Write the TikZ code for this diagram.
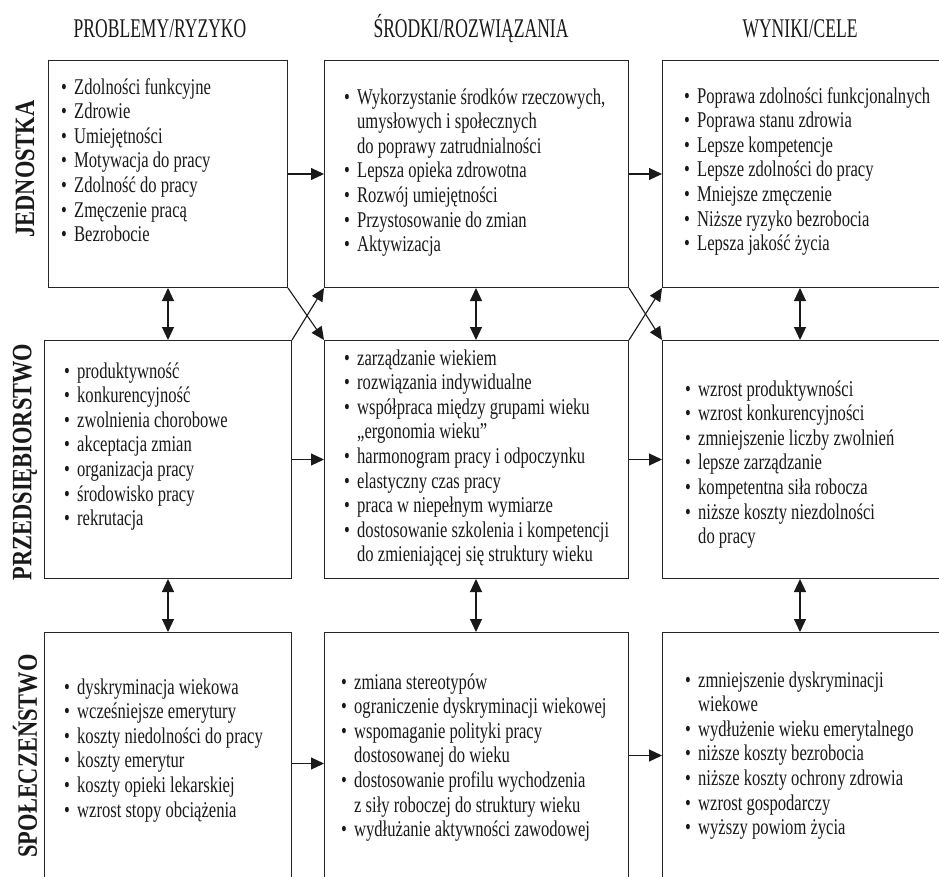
\documentclass[tikz,border=0pt]{standalone}
\usepackage{fontspec}
\setmainfont[FakeStretch=0.737]{Liberation Serif}
\newfontfamily\hdfont[FakeStretch=0.65]{Liberation Serif}
\newfontfamily\lblfont[FakeStretch=0.80]{Liberation Serif Bold}
\usetikzlibrary{arrows.meta}
\newcommand{\itm}[1]{\makebox[13pt][l]{•}#1}
\newcommand{\cnt}[1]{\hspace*{13pt}#1}
\begin{document}
\begin{tikzpicture}[x=1pt,y=-1pt,
 box/.style={draw=black!85, line width=1pt, anchor=north west, inner sep=0pt},
 txt/.style={anchor=base west, inner sep=0pt, font=\fontsize{22.5}{24.6}\selectfont, text=black!90},
 hdr/.style={anchor=base, inner sep=0pt, font=\hdfont\fontsize{27}{30}\selectfont, text=black!90},
 lbl/.style={rotate=90, inner sep=0pt, font=\lblfont\fontsize{28}{32}\selectfont, text=black!90},
 arr/.style={line width=1.1pt, draw=black!90, -{Triangle[length=13pt,width=12pt]}},
 darr/.style={line width=1.1pt, draw=black!90, {Triangle[length=13pt,width=12pt]}-{Triangle[length=13pt,width=12pt]}}]
\useasboundingbox (0,0) rectangle (939,876);
\clip (0,0) rectangle (939,876);
\fill[white] (0,0) rectangle (939,876);

% headers
\node[hdr] (h1) at (160,37) {PROBLEMY/RYZYKO};
\node[hdr] (h2) at (471,37) {ŚRODKI/ROZWIĄZANIA};
\node[hdr] (h3) at (800,37) {WYNIKI/CELE};

% row labels
\node[lbl] (lj) at (25,169) {JEDNOSTKA};
\node[lbl] (lp) at (25,462) {PRZEDSIĘBIORSTWO};
\node[lbl] (ls) at (25,756) {SPOŁECZEŃSTWO};

% boxes
\node[box, minimum width=239, minimum height=227] (l1) at (48,60) {};
\node[box, minimum width=304, minimum height=227] (m1) at (324,60) {};
\node[box, minimum width=300, minimum height=227] (r1) at (662,60) {};
\node[box, minimum width=247, minimum height=238] (l2) at (44,340) {};
\node[box, minimum width=304, minimum height=238] (m2) at (324,340) {};
\node[box, minimum width=300, minimum height=238] (r2) at (662,340) {};
\node[box, minimum width=247, minimum height=262] (l3) at (44,632) {};
\node[box, minimum width=304, minimum height=262] (m3) at (324,632) {};
\node[box, minimum width=300, minimum height=262] (r3) at (662,632) {};

% texts
\node[txt] (tl1) at (61,94) {\begin{tabular}[t]{@{}l@{}}
\itm{Zdolności funkcyjne}\\
\itm{Zdrowie}\\
\itm{Umiejętności}\\
\itm{Motywacja do pracy}\\
\itm{Zdolność do pracy}\\
\itm{Zmęczenie pracą}\\
\itm{Bezrobocie}
\end{tabular}};
\node[txt] (tm1) at (344,104) {\begin{tabular}[t]{@{}l@{}}
\itm{Wykorzystanie środków rzeczowych,}\\
\cnt{umysłowych i społecznych}\\
\cnt{do poprawy zatrudnialności}\\
\itm{Lepsza opieka zdrowotna}\\
\itm{Rozwój umiejętności}\\
\itm{Przystosowanie do zmian}\\
\itm{Aktywizacja}
\end{tabular}};
\node[txt] (tr1) at (684,103) {\begin{tabular}[t]{@{}l@{}}
\itm{Poprawa zdolności funkcjonalnych}\\
\itm{Poprawa stanu zdrowia}\\
\itm{Lepsze kompetencje}\\
\itm{Lepsze zdolności do pracy}\\
\itm{Mniejsze zmęczenie}\\
\itm{Niższe ryzyko bezrobocia}\\
\itm{Lepsza jakość życia}
\end{tabular}};
\node[txt] (tl2) at (64,378) {\begin{tabular}[t]{@{}l@{}}
\itm{produktywność}\\
\itm{konkurencyjność}\\
\itm{zwolnienia chorobowe}\\
\itm{akceptacja zmian}\\
\itm{organizacja pracy}\\
\itm{środowisko pracy}\\
\itm{rekrutacja}
\end{tabular}};
\node[txt] (tm2) at (344,365) {\begin{tabular}[t]{@{}l@{}}
\itm{zarządzanie wiekiem}\\
\itm{rozwiązania indywidualne}\\
\itm{współpraca między grupami wieku}\\
\cnt{„ergonomia wieku"}\\
\itm{harmonogram pracy i odpoczynku}\\
\itm{elastyczny czas pracy}\\
\itm{praca w niepełnym wymiarze}\\
\itm{dostosowanie szkolenia i kompetencji}\\
\cnt{do zmieniającej się struktury wieku}
\end{tabular}};
\node[txt] (tr2) at (685,396) {\begin{tabular}[t]{@{}l@{}}
\itm{wzrost produktywności}\\
\itm{wzrost konkurencyjności}\\
\itm{zmniejszenie liczby zwolnień}\\
\itm{lepsze zarządzanie}\\
\itm{kompetentna siła robocza}\\
\itm{niższe koszty niezdolności}\\
\cnt{do pracy}
\end{tabular}};
\node[txt] (tl3) at (64,694) {\begin{tabular}[t]{@{}l@{}}
\itm{dyskryminacja wiekowa}\\
\itm{wcześniejsze emerytury}\\
\itm{koszty niedolności do pracy}\\
\itm{koszty emerytur}\\
\itm{koszty opieki lekarskiej}\\
\itm{wzrost stopy obciążenia}
\end{tabular}};
\node[txt] (tm3) at (341,689) {\begin{tabular}[t]{@{}l@{}}
\itm{zmiana stereotypów}\\
\itm{ograniczenie dyskryminacji wiekowej}\\
\itm{wspomaganie polityki pracy}\\
\cnt{dostosowanej do wieku}\\
\itm{dostosowanie profilu wychodzenia}\\
\cnt{z siły roboczej do struktury wieku}\\
\itm{wydłużanie aktywności zawodowej}
\end{tabular}};
\node[txt] (tr3) at (685,687) {\begin{tabular}[t]{@{}l@{}}
\itm{zmniejszenie dyskryminacji}\\
\cnt{wiekowe}\\
\itm{wydłużenie wieku emerytalnego}\\
\itm{niższe koszty bezrobocia}\\
\itm{niższe koszty ochrony zdrowia}\\
\itm{wzrost gospodarczy}\\
\itm{wyższy powiom życia}
\end{tabular}};

% horizontal arrows
\draw[arr] (l1.east) -- (l1.east -| m1.west);
\draw[arr] (m1.east) -- (m1.east -| r1.west);
\draw[arr] (l2.east) -- (l2.east -| m2.west);
\draw[arr] (m2.east) -- (m2.east -| r2.west);
\draw[arr] (l3.east) -- (l3.east -| m3.west);
\draw[arr] ([yshift=8pt]m3.east) -- ([yshift=8pt]m3.east -| r3.west);

% vertical double arrows
\coordinate (vL) at (168,0);
\coordinate (vM) at (476,0);
\coordinate (vR) at (800,0);
\draw[darr] (vL |- l1.south) -- (vL |- l2.north);
\draw[darr] (vM |- m1.south) -- (vM |- m2.north);
\draw[darr] (vR |- r1.south) -- (vR |- r2.north);
\draw[darr] (vL |- l2.south) -- (vL |- l3.north);
\draw[darr] (vM |- m2.south) -- (vM |- m3.north);
\draw[darr] (vR |- r2.south) -- (vR |- r3.north);

% crossing arrows
\draw[arr] (l1.south east) -- (m2.north west);
\draw[arr] (l2.north east) -- (m1.south west);
\draw[arr] (m1.south east) -- (r2.north west);
\draw[arr] (m2.north east) -- (r1.south west);
\end{tikzpicture}
\end{document}
